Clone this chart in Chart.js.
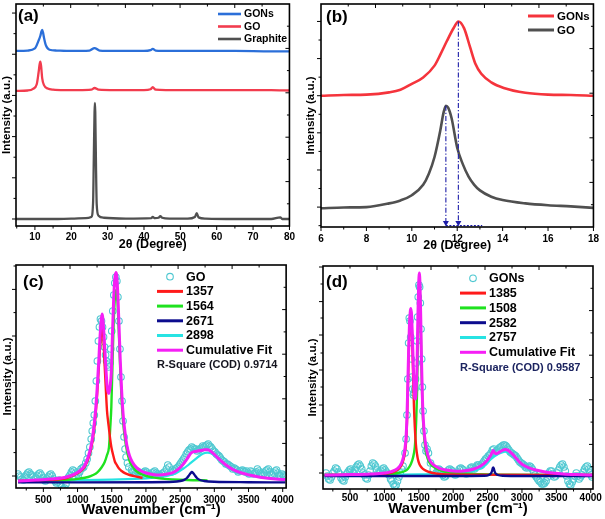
<!DOCTYPE html>
<html>
<head>
<meta charset="utf-8">
<script src="https://cdn.jsdelivr.net/npm/chart.js@4.4.1/dist/chart.umd.min.js"></script>
<style>
html,body{margin:0;padding:0;background:#fff;}
#wrap{position:relative;width:605px;height:519px;overflow:hidden;background:#fff;}
canvas{position:absolute;}
</style>
</head>
<body>
<div id="wrap">
<canvas id="ca" width="300" height="256" style="left:0px;top:0px;width:300px;height:256px"></canvas>
<canvas id="cb" width="305" height="256" style="left:300px;top:0px;width:305px;height:256px"></canvas>
<canvas id="cc" width="300" height="267" style="left:0px;top:252px;width:300px;height:267px"></canvas>
<canvas id="cd" width="305" height="267" style="left:300px;top:252px;width:305px;height:267px"></canvas>
</div>
<script>
// ---------------- DATA ----------------
// (a) XRD, full range  [2theta, intensity (offset, a.u.)]
const aTicksX = [10, 20, 30, 40, 50, 60, 70, 80];
const aGONs = [[4.8,4.08],[8,4.09],[10,4.14],[11,4.33],[11.5,4.45],[11.75,4.54],[12,4.59],[12.25,4.52],[12.5,4.40],[13,4.22],[14,4.11],[16,4.09],[20,4.08],[25,4.09],[26.4,4.15],[27.8,4.09],[32,4.08],[40,4.08],[41.8,4.10],[42.4,4.13],[43.2,4.09],[47,4.08],[55,4.08],[65,4.08],[75,4.07],[80,4.07]];
const aGO = [[4.8,3.11],[8,3.12],[9.5,3.16],[10.5,3.27],[11,3.55],[11.3,3.76],[11.5,3.82],[11.7,3.72],[12,3.42],[12.5,3.25],[13.5,3.17],[15,3.14],[18,3.13],[22,3.13],[25.5,3.14],[26.4,3.18],[27.5,3.14],[32,3.13],[40,3.13],[41.8,3.15],[42.4,3.20],[43.2,3.14],[46,3.13],[55,3.13],[65,3.13],[75,3.13],[80,3.12]];
const aGraphite = [[4.8,0.0],[10,0.0],[15,0.0],[20,0.01],[24,0.02],[25.5,0.05],[26.0,0.4],[26.2,1.5],[26.4,2.6],[26.5,2.82],[26.6,2.6],[26.8,1.3],[27.0,0.35],[27.5,0.08],[29,0.03],[35,0.01],[42,0.02],[42.4,0.05],[43,0.02],[44,0.03],[44.5,0.07],[45,0.03],[47,0.01],[52,0.01],[54,0.05],[54.5,0.14],[55,0.04],[57,0.01],[65,0.0],[75,0.0],[77.5,0.04],[78,0.0],[80,0.0]];

// (b) XRD, zoom on the (001) peak
const bTicksX = [6, 8, 10, 12, 14, 16, 18];
const bGONs = [[6,3.0],[7,3.02],[8,3.03],[9,3.09],[9.5,3.16],[10,3.32],[10.5,3.49],[11,3.81],[11.25,4.1],[11.55,4.48],[11.85,4.83],[12.05,5.0],[12.3,4.82],[12.57,4.3],[12.8,3.86],[13.06,3.59],[13.5,3.36],[14.05,3.21],[15,3.08],[16,3.03],[17,3.02],[18,3.0]];
const bGO = [[6,-0.03],[7,-0.01],[8,0.0],[9,0.1],[9.5,0.18],[10,0.32],[10.5,0.6],[10.75,0.9],[11,1.35],[11.25,2.05],[11.4,2.55],[11.5,2.73],[11.6,2.68],[11.75,2.4],[12,1.6],[12.25,1.15],[12.5,0.82],[12.75,0.6],[13,0.45],[13.5,0.28],[14,0.19],[15,0.1],[16,0.05],[17,0.02],[18,-0.02]];

// (c) Raman GO  [wavenumber, intensity]
const cTicksX = [500, 1000, 1500, 2000, 2500, 3000, 3500, 4000];
const cGO = [[130,0.35],[170,0.2],[210,0.05],[250,0.3],[290,0.45],[330,0.3],[370,0.1],[410,0.25],[450,0.4],[490,0.15],[530,0.0],[570,0.2],[610,0.35],[650,0.1],[690,-0.1],[730,0.05],[770,-0.3],[810,-0.35],[850,0.1],[890,0.3],[930,0.55],[970,0.4],[1010,0.3],[1050,0.6],[1090,0.7],
[1120,0.9],[1140,1.1],[1160,1.4],[1180,1.7],[1200,2.1],[1215,2.5],[1230,2.9],[1245,3.3],[1260,4.0],[1275,5.0],[1290,6.0],[1305,7.0],[1320,7.7],[1335,8.1],[1350,8.0],[1365,7.7],[1380,7.2],[1395,6.7],[1410,6.3],[1425,6.0],[1440,5.8],[1455,5.7],[1470,5.9],[1485,6.6],[1500,7.5],[1515,8.5],[1530,9.3],[1545,9.9],[1560,10.2],[1575,10.0],[1590,9.2],[1605,8.0],[1620,6.6],[1635,5.2],[1650,4.0],[1665,3.0],[1680,2.2],[1695,1.6],[1710,1.2],[1730,0.9],[1750,0.7],
[1790,0.55],[1830,0.45],[1870,0.5],[1910,0.35],[1950,0.4],[1990,0.5],[2030,0.35],[2070,0.3],[2110,0.45],[2150,0.4],[2190,0.3],[2230,0.35],[2270,0.45],[2300,0.6],[2320,0.8],[2340,0.7],[2370,0.45],[2410,0.5],[2450,0.65],[2490,0.8],[2530,1.0],[2570,1.2],[2610,1.45],[2650,1.6],[2690,1.65],[2730,1.6],[2770,1.55],[2810,1.65],[2850,1.7],[2890,1.8],[2930,1.75],[2970,1.6],[3010,1.45],[3050,1.3],[3090,1.15],[3130,1.0],[3170,0.85],[3210,0.8],[3250,0.7],[3290,0.65],[3330,0.55],[3370,0.5],[3410,0.55],[3450,0.45],[3490,0.4],[3530,0.5],[3570,0.35],[3610,0.45],[3650,0.5],[3690,0.35],[3730,0.4],[3770,0.55],[3810,0.45],[3850,0.3],[3890,0.5],[3930,0.4],[3970,0.25],[4010,0.3],[4040,0.2]];
const cGOmid = [[150,0.25],[190,0.1],[230,0.2],[270,0.4],[310,0.35],[350,0.2],[390,0.15],[430,0.35],[470,0.3],[510,0.05],[550,0.1],[590,0.3],[630,0.25],[670,0.0],[710,-0.05],[750,-0.15],[790,-0.4],[830,-0.15],[870,0.2],[910,0.45],[950,0.5],[990,0.35],[1030,0.45],[1070,0.65],
[1810,0.5],[1850,0.4],[1890,0.45],[1930,0.3],[1970,0.45],[2010,0.45],[2050,0.3],[2090,0.4],[2130,0.5],[2170,0.35],[2210,0.3],[2250,0.4],[2390,0.55],[2430,0.6],[2470,0.7],[2510,0.9],[2550,1.1],[2590,1.35],[2630,1.55],[2670,1.7],[2710,1.6],[2750,1.5],[2790,1.6],[2830,1.75],[2870,1.75],[2910,1.85],[2950,1.7],[2990,1.5],[3030,1.35],[3070,1.25],[3110,1.05],[3150,0.95],[3190,0.85],[3230,0.75],[3270,0.6],[3310,0.6],[3350,0.45],[3390,0.5],[3430,0.5],[3470,0.5],[3510,0.35],[3550,0.45],[3590,0.4],[3630,0.6],[3670,0.4],[3710,0.3],[3750,0.5],[3790,0.6],[3830,0.35],[3870,0.4],[3910,0.55],[3950,0.3],[3990,0.35],[4025,0.25]];
const c1357 = [[130,0.0],[600,0.05],[840,0.15],[1030,0.45],[1100,0.68],[1155,1.1],[1200,1.65],[1228,2.2],[1260,3.15],[1286,4.3],[1310,5.6],[1325,6.5],[1345,7.4],[1358,7.75],[1375,7.3],[1397,5.75],[1415,4.5],[1431,3.5],[1446,3.0],[1460,2.6],[1477,2.1],[1494,1.7],[1528,1.2],[1548,0.95],[1565,0.85],[1606,0.62],[1645,0.5],[1700,0.38],[1761,0.3],[1859,0.22],[1950,0.15]];
const c1564 = [[130,0.0],[600,0.03],[840,0.06],[1030,0.12],[1155,0.2],[1228,0.3],[1286,0.42],[1345,0.65],[1397,0.95],[1431,1.3],[1460,1.7],[1477,2.6],[1494,3.7],[1512,6.0],[1528,7.9],[1548,9.25],[1565,9.55],[1585,8.9],[1606,7.2],[1625,5.5],[1645,4.0],[1665,3.0],[1688,2.25],[1720,1.55],[1761,1.0],[1800,0.75],[1859,0.5],[1930,0.35],[2005,0.25],[2100,0.18],[2199,0.13],[2393,0.08],[2600,0.05],[2900,0.03]];
const c2671 = [[130,-0.07],[1000,-0.07],[2000,-0.06],[2400,-0.04],[2500,0.0],[2560,0.06],[2600,0.15],[2630,0.28],[2655,0.4],[2671,0.45],[2690,0.4],[2715,0.28],[2745,0.15],[2790,0.05],[2850,0.0],[3000,-0.04],[3500,-0.06],[4040,-0.07]];
const c2898 = [[130,0.0],[1000,0.04],[1500,0.07],[2000,0.13],[2200,0.2],[2393,0.33],[2470,0.45],[2539,0.6],[2600,0.75],[2660,0.92],[2733,1.12],[2800,1.3],[2860,1.4],[2898,1.42],[2960,1.38],[3073,1.05],[3170,0.8],[3268,0.58],[3400,0.4],[3510,0.3],[3650,0.2],[3753,0.15],[3900,0.1],[4040,0.07]];
const cFit = [[130,0.0],[400,0.05],[600,0.1],[840,0.2],[1030,0.5],[1100,0.75],[1155,1.2],[1200,1.8],[1228,2.4],[1260,3.4],[1286,4.6],[1310,6.0],[1325,7.0],[1345,8.0],[1358,8.35],[1375,7.9],[1397,6.7],[1415,5.6],[1431,4.8],[1446,4.45],[1460,4.38],[1477,4.75],[1494,5.45],[1512,7.5],[1528,9.1],[1548,10.2],[1565,10.42],[1585,9.6],[1606,7.8],[1625,6.0],[1645,4.5],[1665,3.4],[1688,2.6],[1720,1.8],[1761,1.25],[1800,0.95],[1859,0.68],[1930,0.5],[2005,0.4],[2100,0.33],[2199,0.3],[2300,0.34],[2393,0.42],[2470,0.58],[2539,0.82],[2600,1.1],[2660,1.4],[2700,1.47],[2733,1.48],[2800,1.52],[2860,1.56],[2903,1.56],[2960,1.45],[3073,1.08],[3170,0.8],[3268,0.58],[3400,0.4],[3510,0.3],[3650,0.2],[3753,0.15],[3900,0.1],[4040,0.07]];

// (d) Raman GONs
const dTicksX = [500, 1000, 1500, 2000, 2500, 3000, 3500, 4000];
const dGONs = [[150,0.1],[190,-0.2],[230,-0.1],[270,0.2],[310,0.3],[350,0.05],[390,-0.25],[430,-0.1],[470,0.15],[510,0.3],[550,0.1],[590,0.4],[630,0.55],[670,0.3],[710,0.0],[750,-0.2],[790,0.2],[830,0.6],[870,0.45],[910,0.1],[950,0.2],[990,0.35],[1030,0.15],[1070,0.0],[1110,-0.3],[1150,-0.55],[1190,-0.3],[1230,0.1],[1270,0.45],[1300,1.1],
[1315,1.8],[1328,3.0],[1340,4.8],[1352,6.6],[1362,7.85],[1372,7.7],[1382,6.9],[1392,5.8],[1402,4.9],[1412,4.3],[1422,4.0],[1432,4.1],[1442,4.3],[1452,4.8],[1462,5.6],[1472,6.7],[1482,7.9],[1492,8.9],[1502,9.5],[1512,9.4],[1522,8.6],[1532,7.3],[1542,5.8],[1552,4.4],[1562,3.2],[1575,2.2],[1590,1.5],[1605,1.2],[1620,1.3],[1640,1.1],[1670,0.6],[1710,0.3],
[1750,0.1],[1790,0.3],[1830,0.15],[1870,-0.1],[1910,0.1],[1950,0.3],[1990,0.2],[2030,0.0],[2070,0.15],[2110,0.35],[2150,0.25],[2190,0.05],[2230,0.2],[2270,0.4],[2310,0.3],[2350,0.5],[2390,0.45],[2430,0.6],[2470,0.8],[2510,0.95],[2550,1.1],[2590,1.3],[2630,1.2],[2670,1.35],[2710,1.45],[2750,1.5],[2790,1.35],[2830,1.15],[2870,1.05],[2910,0.95],[2950,0.75],[2990,0.6],[3030,0.5],[3070,0.35],[3110,0.45],[3150,0.3],[3190,0.0],[3230,-0.2],[3270,-0.35],[3310,-0.45],[3350,-0.3],[3390,0.1],[3430,0.2],[3470,-0.1],[3510,0.1],[3550,0.4],[3590,0.55],[3630,0.2],[3670,-0.3],[3710,-0.5],[3750,-0.2],[3790,0.1],[3830,-0.2],[3870,0.0],[3910,0.3],[3950,0.45],[3990,0.1],[4020,-0.1]];
const dGONsMid = [[170,-0.05],[210,-0.25],[250,0.1],[290,0.35],[330,0.15],[370,-0.15],[410,-0.3],[450,0.05],[490,0.25],[530,0.2],[570,0.25],[610,0.5],[650,0.45],[690,0.1],[730,-0.15],[770,0.0],[810,0.45],[850,0.55],[890,0.25],[930,0.1],[970,0.3],[1010,0.25],[1050,0.05],[1090,-0.2],[1130,-0.45],[1170,-0.5],[1210,-0.1],[1250,0.3],
[1770,0.2],[1810,0.25],[1850,0.0],[1890,-0.05],[1930,0.25],[1970,0.25],[2010,0.05],[2050,0.05],[2090,0.3],[2130,0.3],[2170,0.1],[2210,0.1],[2250,0.35],[2290,0.35],[2330,0.4],[2370,0.5],[2410,0.5],[2450,0.7],[2490,0.85],[2530,1.0],[2570,1.25],[2610,1.15],[2650,1.25],[2690,1.4],[2730,1.5],[2770,1.45],[2810,1.25],[2850,1.1],[2890,1.0],[2930,0.85],[2970,0.65],[3010,0.55],[3050,0.4],[3090,0.4],[3130,0.4],[3170,0.15],[3210,-0.1],[3250,-0.3],[3290,-0.45],[3330,-0.4],[3370,-0.1],[3410,0.2],[3450,0.05],[3490,-0.05],[3530,0.25],[3570,0.5],[3610,0.4],[3650,-0.05],[3690,-0.45],[3730,-0.35],[3770,-0.05],[3810,-0.05],[3850,-0.1],[3890,0.15],[3930,0.4],[3970,0.3],[4005,0.0]];
const d1385 = [[130,0.0],[800,0.03],[1000,0.06],[1100,0.12],[1200,0.28],[1250,0.5],[1280,0.8],[1300,1.15],[1315,1.65],[1328,2.6],[1340,4.2],[1352,5.9],[1365,7.3],[1377,8.0],[1385,8.15],[1395,7.7],[1407,6.4],[1418,4.9],[1430,3.4],[1442,2.4],[1452,1.8],[1463,1.35],[1474,1.05],[1486,0.8],[1508,0.55],[1540,0.38],[1585,0.25],[1650,0.15],[1700,0.1],[1800,0.05],[2100,0.02],[4033,0.0]];
const d1508 = [[130,0.0],[800,0.02],[1000,0.04],[1100,0.06],[1200,0.1],[1300,0.2],[1340,0.3],[1385,0.55],[1418,0.9],[1442,1.4],[1452,1.9],[1463,2.8],[1474,4.1],[1486,6.6],[1497,8.7],[1508,9.5],[1518,8.9],[1528,7.4],[1540,5.2],[1552,3.6],[1565,2.5],[1585,1.6],[1610,1.05],[1650,0.65],[1700,0.45],[1800,0.25],[1900,0.15],[2100,0.08],[2400,0.04],[2700,0.02],[4033,0.0]];
const d2582 = [[130,-0.05],[2000,-0.05],[2450,-0.04],[2520,0.0],[2550,0.08],[2565,0.2],[2575,0.33],[2582,0.38],[2590,0.33],[2600,0.2],[2615,0.08],[2650,0.0],[2720,-0.04],[3000,-0.05],[4033,-0.05]];
const d2757 = [[130,0.0],[1000,0.01],[1500,0.03],[1800,0.06],[2000,0.1],[2150,0.14],[2300,0.2],[2400,0.33],[2480,0.53],[2540,0.76],[2600,0.93],[2660,1.06],[2700,1.12],[2757,1.17],[2800,1.13],[2850,1.0],[2900,0.84],[2950,0.65],[3000,0.5],[3100,0.33],[3200,0.23],[3300,0.16],[3450,0.09],[3600,0.05],[3800,0.02],[4033,0.0]];
const dFit = [[130,0.0],[500,0.02],[800,0.05],[1000,0.1],[1100,0.17],[1200,0.35],[1250,0.6],[1280,0.95],[1300,1.35],[1315,1.9],[1328,2.9],[1340,4.5],[1352,6.2],[1365,7.6],[1377,8.2],[1385,8.33],[1395,8.0],[1407,6.9],[1418,5.7],[1430,4.5],[1442,3.8],[1452,3.8],[1463,4.4],[1474,5.4],[1486,7.8],[1497,9.4],[1508,10.1],[1518,9.45],[1528,7.9],[1540,5.6],[1552,3.9],[1565,2.8],[1585,1.9],[1610,1.3],[1650,0.8],[1700,0.55],[1800,0.33],[1900,0.25],[2000,0.2],[2100,0.19],[2200,0.22],[2300,0.3],[2400,0.45],[2480,0.68],[2540,0.95],[2565,1.12],[2582,1.22],[2600,1.12],[2625,1.06],[2660,1.12],[2700,1.2],[2757,1.28],[2800,1.23],[2850,1.08],[2900,0.9],[2950,0.7],[3000,0.54],[3100,0.36],[3200,0.25],[3300,0.18],[3450,0.1],[3600,0.05],[3800,0.02],[4033,0.0]];

// left-axis tick values (no labels in the original)
const aYMajor = [0, 1, 2, 3, 4, 5], aYMinor = [0.5, 1.5, 2.5, 3.5, 4.5];
const bYMajor = [0, 1, 2, 3, 4, 5], bYMinor = [-0.5, 0.5, 1.5, 2.5, 3.5, 4.5];
const cYMajor = [0.25, 2.58, 4.92, 7.25, 9.58], cYMinor = [1.42, 3.75, 6.08, 8.42, 10.75];
const dYMajor = [0.1, 1.85, 3.5, 5.25, 7.0, 8.67, 10.4], dYMinor = [1.0, 2.7, 4.4, 6.1, 7.85, 9.55];

// ---------------- RENDERING ----------------
const FONT = "'Liberation Sans', Arial, Helvetica, sans-serif";
Chart.defaults.font.family = FONT;
Chart.defaults.color = '#000';

const toXY = arr => arr.map(p => ({x: p[0], y: p[1]}));
const byX = arr => arr.slice().sort((p, q) => p[0] - q[0]);
const peakOf = arr => arr.reduce((m, p) => (p[1] > m[1] ? p : m), arr[0]);

function lineDS(label, arr, color, width, order) {
  return {label, data: toXY(arr), borderColor: color, backgroundColor: color, borderWidth: width,
    pointRadius: 0, cubicInterpolationMode: 'monotone', fill: false, order};
}
function dotDS(label, arr, color, order) {
  return {label, data: toXY(arr), showLine: false, pointRadius: 3.3, pointBorderWidth: 1.1,
    pointBorderColor: color, pointBackgroundColor: 'rgba(0,0,0,0)', borderColor: color,
    backgroundColor: 'rgba(0,0,0,0)', order, isDots: true};
}

const decor = {
  id: 'decor',
  afterDraw(chart, args, o) {
    const {ctx, chartArea: a} = chart;
    const xs = chart.scales.x, ys = chart.scales.y;
    const w = a.right - a.left, h = a.bottom - a.top;
    ctx.save();
    ctx.strokeStyle = '#000';
    ctx.lineWidth = 1;
    const seg = (x1, y1, x2, y2) => { ctx.beginPath(); ctx.moveTo(x1, y1); ctx.lineTo(x2, y2); ctx.stroke(); };
    (o.xMajor || []).forEach(v => { const p = xs.getPixelForValue(v); seg(p, a.bottom, p, a.bottom + 4); });
    (o.xMinor || []).forEach(v => { const p = xs.getPixelForValue(v); seg(p, a.bottom, p, a.bottom + 2.5); });
    (o.yMajor || []).forEach(v => { const p = ys.getPixelForValue(v); seg(a.left - 4, p, a.left, p); });
    (o.yMinor || []).forEach(v => { const p = ys.getPixelForValue(v); seg(a.left - 2.5, p, a.left, p); });
    [0.2, 0.4, 0.6, 0.8].forEach(f => {
      seg(a.left + f * w, a.top, a.left + f * w, a.top + 4);
      seg(a.right, a.top + f * h, a.right - 4, a.top + f * h);
    });
    [0.1, 0.3, 0.5, 0.7, 0.9].forEach(f => {
      seg(a.left + f * w, a.top, a.left + f * w, a.top + 2.5);
      seg(a.right, a.top + f * h, a.right - 2.5, a.top + f * h);
    });
    ctx.lineWidth = 1.6;
    ctx.strokeRect(a.left, a.top, w, h);

    // legend
    const L = o.legend;
    if (L) {
      ctx.font = 'bold ' + L.size + 'px ' + FONT;
      ctx.textBaseline = 'middle';
      ctx.textAlign = 'left';
      L.items.forEach((idx, i) => {
        const ds = chart.data.datasets[idx];
        const y = L.y0 + i * L.dy;
        if (ds.isDots) {
          ctx.beginPath();
          ctx.lineWidth = 1.1;
          ctx.strokeStyle = ds.pointBorderColor;
          ctx.arc((L.x1 + L.x2) / 2, y, 3.3, 0, Math.PI * 2);
          ctx.stroke();
        } else {
          ctx.lineWidth = L.lw;
          ctx.strokeStyle = ds.borderColor;
          seg(L.x1, y, L.x2, y);
        }
        ctx.fillStyle = '#000';
        ctx.fillText(ds.label, L.tx, y + 0.5);
      });
      if (L.extra) {
        ctx.font = 'bold ' + L.extraSize + 'px ' + FONT;
        ctx.fillStyle = L.extraColor;
        ctx.fillText(L.extra, L.x1, L.y0 + L.items.length * L.dy + 0.5);
      }
    }
    if (o.panel) {
      ctx.font = 'bold 17px ' + FONT;
      ctx.fillStyle = '#000';
      ctx.textBaseline = 'middle';
      ctx.textAlign = 'left';
      ctx.fillText(o.panel.text, o.panel.x, o.panel.y);
    }
    ctx.restore();
  }
};

function makeChart(id, geo, ax, datasets, deco) {
  return new Chart(document.getElementById(id), {
    type: 'line',
    data: {datasets},
    options: {
      responsive: false, animation: false, devicePixelRatio: 1,
      layout: {padding: {top: geo.top, right: geo.W - geo.right, left: 0, bottom: 0}},
      plugins: {legend: {display: false}, tooltip: {enabled: false}, decor: deco},
      scales: {
        x: {
          type: 'linear', min: ax.xmin, max: ax.xmax,
          afterBuildTicks: s => { s.ticks = ax.xticks.map(v => ({value: v})); },
          afterFit: s => { s.height = geo.H - geo.bottom; },
          grid: {display: false, drawTicks: false}, border: {display: false},
          ticks: {color: '#000', font: {size: 10, weight: 'bold'}, padding: ax.tickPad, maxRotation: 0,
            autoSkip: false, callback: v => String(v)},
          title: {display: true, text: ax.xtitle, color: '#000', font: {size: ax.xtitleSize, weight: 'bold'},
            padding: {top: 0, bottom: ax.xtitlePad}}
        },
        y: {
          type: 'linear', min: ax.ymin, max: ax.ymax,
          afterFit: s => { s.width = geo.left; },
          grid: {display: false, drawTicks: false}, border: {display: false},
          ticks: {display: false},
          title: {display: true, text: 'Intensity (a.u.)', color: '#000', font: {size: 11.5, weight: 'bold'},
            padding: {top: ax.ytitlePad, bottom: 0}}
        }
      }
    },
    plugins: [decor]
  });
}

const minorBetween = t => t.slice(0, -1).map((v, i) => (v + t[i + 1]) / 2);

// (a)
makeChart('ca', {W: 300, H: 256, left: 16, top: 4, right: 290, bottom: 226},
  {xmin: 4.8, xmax: 80, xticks: aTicksX, tickPad: 5, xtitle: '2θ (Degree)', xtitleSize: 12.5, xtitlePad: 3.5,
   ymin: -0.17, ymax: 5.22, ytitlePad: 0.3},
  [lineDS('GONs', aGONs, '#2b6fd9', 2.3, 1),
   lineDS('GO', aGO, '#f23c4e', 2.3, 2),
   lineDS('Graphite', aGraphite, '#505050', 2.3, 3)],
  {xMajor: aTicksX, xMinor: [5, ...minorBetween(aTicksX)], yMajor: aYMajor, yMinor: aYMinor,
   legend: {items: [0, 1, 2], x1: 218, x2: 241, tx: 244, y0: 14, dy: 12.5, size: 10.5, lw: 2.6},
   panel: {text: '(a)', x: 18, y: 16.5}});

// (b)
const pGO = peakOf(bGO), pGONs = peakOf(bGONs);
const dropDS = (p, ybot) => ({label: '', data: toXY([p, [p[0], ybot]]), borderColor: '#1c1ca8', backgroundColor: '#1c1ca8',
  borderWidth: 1.1, borderDash: [5, 2, 1.2, 2], pointRadius: [0, 3.5], pointStyle: 'triangle', pointRotation: 180,
  pointBorderWidth: 0, order: 0});
makeChart('cb', {W: 305, H: 256, left: 21, top: 3, right: 296, bottom: 227},
  {xmin: 6, xmax: 18, xticks: bTicksX, tickPad: 6, xtitle: '2θ (Degree)', xtitleSize: 12.5, xtitlePad: 2.5,
   ymin: -0.536, ymax: 5.47, ytitlePad: 4.2},
  [lineDS('GONs', bGONs, '#f5343c', 2.6, 1),
   lineDS('GO', bGO, '#505050', 2.6, 2),
   dropDS(pGO, -0.42),
   dropDS(pGONs, -0.42),
   {label: '', data: toXY([[pGO[0], -0.5], [13.1, -0.5]]), borderColor: '#1c1ca8', borderWidth: 1.2,
    borderDash: [2, 1.5], pointRadius: 0, order: 0}],
  {xMajor: bTicksX, xMinor: minorBetween(bTicksX), yMajor: bYMajor, yMinor: bYMinor,
   legend: {items: [0, 1], x1: 228, x2: 254, tx: 257, y0: 16, dy: 14, size: 11.5, lw: 3},
   panel: {text: '(b)', x: 26, y: 17.5}});

// (c)
makeChart('cc', {W: 300, H: 267, left: 16, top: 13, right: 287, bottom: 236},
  {xmin: 100, xmax: 4050, xticks: cTicksX, tickPad: 6, xtitle: 'Wavenumber (cm⁻¹)', xtitleSize: 15, xtitlePad: 0,
   ymin: -0.35, ymax: 10.8, ytitlePad: 0.7},
  [dotDS('GO', byX([...cGO, ...cGOmid]), '#4fc8d1', 7),
   lineDS('1357', c1357, '#ff1a1a', 2.4, 4),
   lineDS('1564', c1564, '#1fe21f', 2.4, 5),
   lineDS('2671', c2671, '#0c0c8e', 2.4, 3),
   lineDS('2898', c2898, '#27e3e3', 2.2, 6),
   lineDS('Cumulative Fit', cFit, '#f51ff5', 3, 1)],
  {xMajor: cTicksX, xMinor: [250, ...minorBetween(cTicksX)], yMajor: cYMajor, yMinor: cYMinor,
   legend: {items: [0, 1, 2, 3, 4, 5], x1: 157, x2: 183, tx: 186, y0: 24.7, dy: 14.7, size: 12.5, lw: 3,
            extra: 'R-Square (COD) 0.9714', extraSize: 11, extraColor: '#151520'},
   panel: {text: '(c)', x: 23, y: 30}});

// (d)
makeChart('cd', {W: 305, H: 267, left: 23, top: 14, right: 293, bottom: 237},
  {xmin: 107, xmax: 4033, xticks: dTicksX, tickPad: 3, xtitle: 'Wavenumber (cm⁻¹)', xtitleSize: 15, xtitlePad: 1.3,
   ymin: -0.7, ymax: 10.45, ytitlePad: 5.8},
  [dotDS('GONs', byX([...dGONs, ...dGONsMid]), '#4fc8d1', 7),
   lineDS('1385', d1385, '#ff1a1a', 2.4, 4),
   lineDS('1508', d1508, '#1fe21f', 2.4, 5),
   lineDS('2582', d2582, '#0c0c8e', 2.4, 3),
   lineDS('2757', d2757, '#27e3e3', 2.2, 6),
   lineDS('Cumulative Fit', dFit, '#f51ff5', 3, 1)],
  {xMajor: dTicksX, xMinor: [250, ...minorBetween(dTicksX)], yMajor: dYMajor, yMinor: dYMinor,
   legend: {items: [0, 1, 2, 3, 4, 5], x1: 160, x2: 186, tx: 189, y0: 26.3, dy: 14.8, size: 12.5, lw: 3,
            extra: 'R-Square (COD) 0.9587', extraSize: 11, extraColor: '#1c2460'},
   panel: {text: '(d)', x: 26, y: 30}});
</script>
</body>
</html>
